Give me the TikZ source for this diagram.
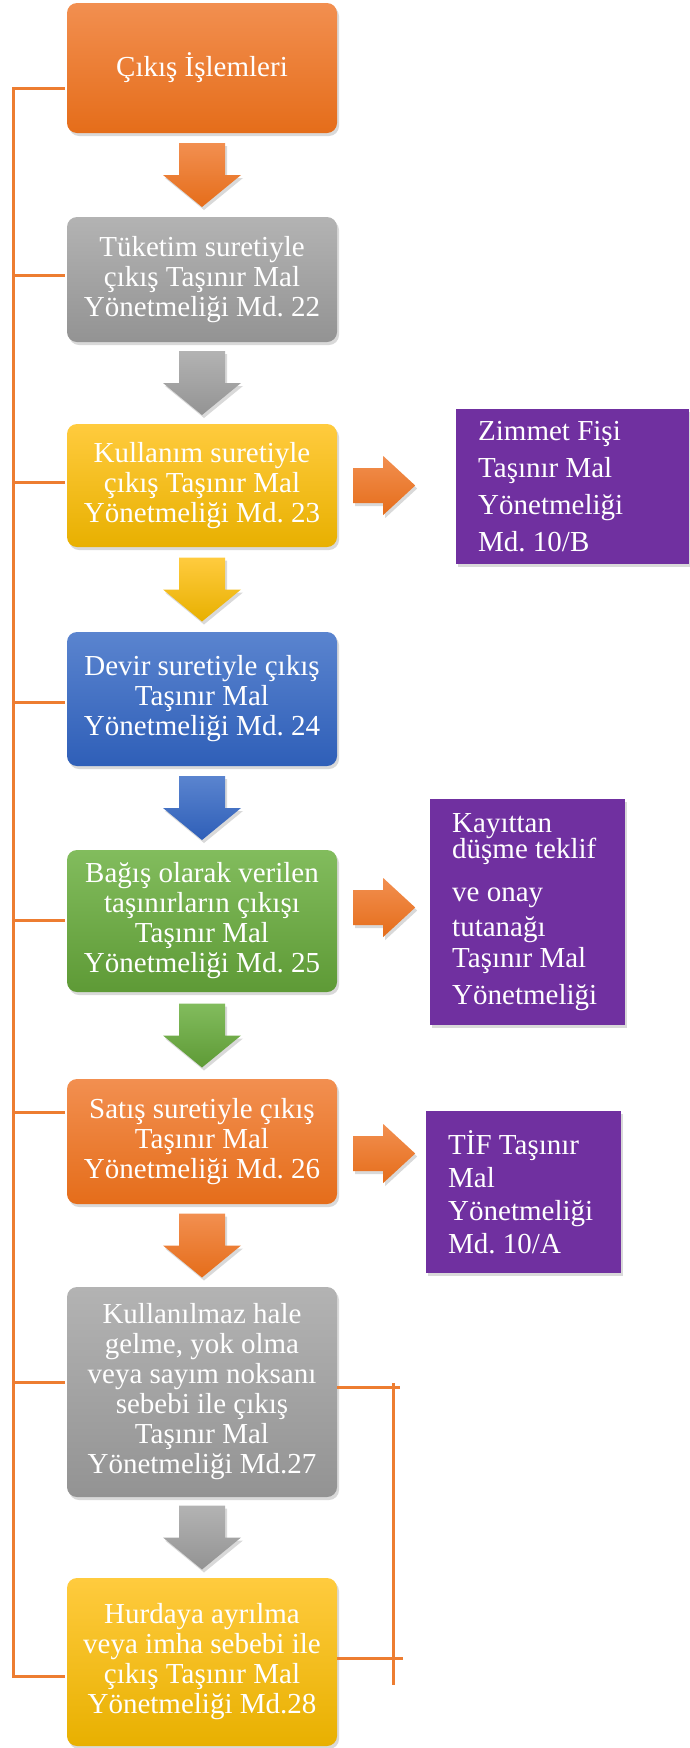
\documentclass[tikz,border=0pt]{standalone}
\usepackage{fontspec}
\setmainfont{Liberation Serif}
\usetikzlibrary{calc,shadows}
\frenchspacing

\definecolor{orngline}{HTML}{ED7D31}
\definecolor{orngtop}{HTML}{F28F50}
\definecolor{orngbot}{HTML}{E56D1A}
\definecolor{graytop}{HTML}{B3B3B3}
\definecolor{graybot}{HTML}{939393}
\definecolor{yelltop}{HTML}{FFCB3E}
\definecolor{yellbot}{HTML}{E8B000}
\definecolor{bluetop}{HTML}{5A84CF}
\definecolor{bluebot}{HTML}{2F5FB8}
\definecolor{greentop}{HTML}{82BC5D}
\definecolor{greenbot}{HTML}{5E9A36}
\definecolor{purp}{HTML}{7030A0}

\tikzset{
  shad/.style={drop shadow={shadow xshift=2pt,shadow yshift=-3pt,opacity=0.3}},
  box/.style={shad,rounded corners=10pt,minimum width=270pt,align=center,text=white,
    font=\fontsize{29}{30}\selectfont},
  note/.style={shad,fill=purp,text=white,align=flush left,anchor=north west,inner xsep=22pt,
    font=\fontsize{29}{37}\selectfont},
  branch/.style={draw=orngline,line width=3pt},
}

% block arrow down between two boxes
\newcommand{\downblock}[4]{%
  \path ($(#3.south)!0.5!(#4.north)$) coordinate (m);
  \shade[shad,top color=#1,bottom color=#2] (m) ++(-23,-32) -- ++(46,0) -- ++(0,32)
    -- ++(16,0) -- ++(-39,32) -- ++(-39,-32) -- ++(16,0) -- cycle;
}
% block arrow to the right of a box
\newcommand{\rightblock}[2]{%
  \shade[shad,top color=orngtop,bottom color=orngbot] ([shift={(16pt,#2)}]#1.east)
    ++(0,-17.5) -- ++(30,0) -- ++(0,-12) -- ++(32,29.5) -- ++(-32,29.5)
    -- ++(0,-12) -- ++(-30,0) -- cycle;
}

\begin{document}
\begin{tikzpicture}[x=1pt,y=-1pt]
\useasboundingbox (0,0) rectangle (689,1748);

\node[box,top color=orngtop,bottom color=orngbot,minimum height=130pt] (b1) at (202,68) {Çıkış İşlemleri};
\node[box,top color=graytop,bottom color=graybot,minimum height=125pt] (b2) at (202,279.5)
  {Tüketim suretiyle\\çıkış Taşınır Mal\\Yönetmeliği Md. 22};
\node[box,top color=yelltop,bottom color=yellbot,minimum height=123pt] (b3) at (202,485.5)
  {Kullanım suretiyle\\çıkış Taşınır Mal\\Yönetmeliği Md. 23};
\node[box,top color=bluetop,bottom color=bluebot,minimum height=134pt] (b4) at (202,699)
  {Devir suretiyle çıkış\\Taşınır Mal\\Yönetmeliği Md. 24};
\node[box,top color=greentop,bottom color=greenbot,minimum height=142pt] (b5) at (202,921)
  {Bağış olarak verilen\\taşınırların çıkışı\\Taşınır Mal\\Yönetmeliği Md. 25};
\node[box,top color=orngtop,bottom color=orngbot,minimum height=125pt] (b6) at (202,1141.5)
  {Satış suretiyle çıkış\\Taşınır Mal\\Yönetmeliği Md. 26};
\node[box,top color=graytop,bottom color=graybot,minimum height=210pt] (b7) at (202,1392)
  {Kullanılmaz hale\\gelme, yok olma\\veya sayım noksanı\\sebebi ile çıkış\\Taşınır Mal\\Yönetmeliği Md.27};
\node[box,top color=yelltop,bottom color=yellbot,minimum height=168pt] (b8) at (202,1662)
  {Hurdaya ayrılma\\veya imha sebebi ile\\çıkış Taşınır Mal\\ Yönetmeliği Md.28};

\node[note,minimum width=233pt,minimum height=155pt,text width=189pt] (n1) at (456,409)
  {Zimmet Fişi\\Taşınır Mal\\Yönetmeliği\\Md. 10/B};
\node[note,minimum width=195pt,minimum height=226pt,text width=151pt,
  font=\fontsize{29}{35}\selectfont] (n2) at (430,799)
  {Kayıttan\\[-9pt]düşme teklif\\[8pt]ve onay\\tutanağı\\[-4pt]Taşınır Mal\\[2pt]Yönetmeliği};
\node[note,minimum width=195pt,minimum height=162pt,text width=151pt,
  font=\fontsize{29}{33}\selectfont] (n3) at (426,1111)
  {TİF Taşınır\\Mal\\Yönetmeliği\\Md. 10/A};

\downblock{orngtop}{orngbot}{b1}{b2}
\downblock{graytop}{graybot}{b2}{b3}
\downblock{yelltop}{yellbot}{b3}{b4}
\downblock{bluetop}{bluebot}{b4}{b5}
\downblock{greentop}{greenbot}{b5}{b6}
\downblock{orngtop}{orngbot}{b6}{b7}
\downblock{graytop}{graybot}{b7}{b8}

\rightblock{b3}{0pt}
\rightblock{b5}{13.5pt}
\rightblock{b6}{-12pt}

% left bracket
\coordinate (sp) at (13,0);
\draw[branch] ([shift={(-2pt,-20pt)}]b1.west) coordinate (t1) -- (t1 -| sp)
  |- ([shift={(-2pt,-14pt)}]b8.west);
\foreach \b/\dy in {b2/4.5,b3/3.5,b4/-3,b5/1,b6/29.5,b7/10}
  \draw[branch] ([shift={(-2pt,\dy pt)}]\b.west) coordinate (t) -- (t -| sp);

% right bracket
\coordinate (rtop) at (393,1383);
\coordinate (rbot) at (393,1685);
\draw[branch] (rtop) -- (rbot);
\draw[branch] ([yshift=5pt]b7.east) -- ++(63,0);
\draw[branch] ([yshift=4pt]b8.east) -- ++(66,0);
\end{tikzpicture}
\end{document}
